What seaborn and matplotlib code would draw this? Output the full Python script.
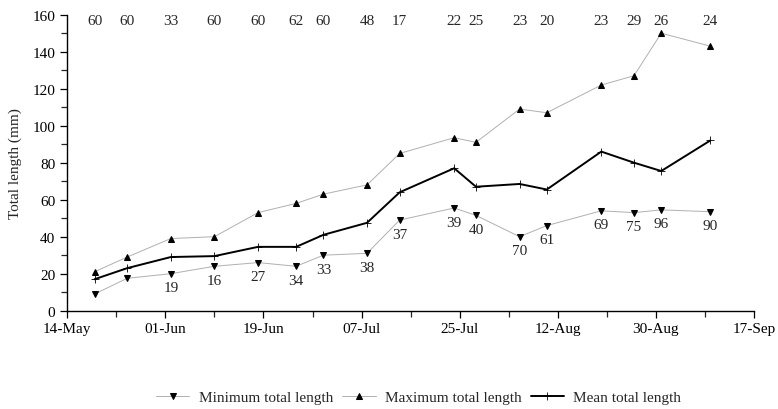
import matplotlib
matplotlib.use("Agg")
import matplotlib.pyplot as plt
import matplotlib.dates as mdates
import seaborn as sns
import pandas as pd
import numpy as np

dates = ["2000-05-19", "2000-05-25", "2000-06-02", "2000-06-10", "2000-06-18",
         "2000-06-25", "2000-06-30", "2000-07-08", "2000-07-14", "2000-07-24",
         "2000-07-28", "2000-08-05", "2000-08-10", "2000-08-20", "2000-08-26",
         "2000-08-31", "2000-09-09"]
min_len = [9, 17.5, 20, 24, 26, 24, 30, 31, 49, 55.5, 51.5, 40, 46, 54, 53, 54.5, 53.5]
max_len = [21, 29, 39, 40, 53, 58, 63, 68, 85, 93.5, 91, 109, 107, 122, 127, 150, 143]
mean_len = [17, 23, 29, 29.5, 34.5, 34.5, 41, 47.5, 64, 77, 67, 68.5, 65.5, 86, 80, 75.5, 92]
top_counts = [60, 60, 33, 60, 60, 62, 60, 48, 17, 22, 25, 23, 20, 23, 29, 26, 24]
bottom_labels = [None, None, 19, 16, 27, 34, 33, 38, 37, 39, 40, 70, 61, 69, 75, 96, 90]
x_ticks = ["2000-05-14", "2000-06-01", "2000-06-19", "2000-07-07", "2000-07-25",
           "2000-08-12", "2000-08-30", "2000-09-17"]

df = pd.DataFrame({"date": pd.to_datetime(dates), "min": min_len,
                   "max": max_len, "mean": mean_len})

sns.set_style("ticks")
plt.rcParams["font.family"] = ["Liberation Serif", "DejaVu Serif"]
plt.rcParams["font.size"] = 11

fig = plt.figure(figsize=(7.78, 4.10), dpi=100)
ax = fig.add_axes([0.0865, 0.2398, 0.8825, 0.7219])

grey = "#b0b0b0"
sns.lineplot(data=df, x="date", y="min", ax=ax, color=grey, lw=0.7,
             marker="v", markersize=5, markerfacecolor="black",
             markeredgecolor="black", label="Minimum total length")
sns.lineplot(data=df, x="date", y="max", ax=ax, color=grey, lw=0.7,
             marker="^", markersize=5, markerfacecolor="black",
             markeredgecolor="black", label="Maximum total length")
sns.lineplot(data=df, x="date", y="mean", ax=ax, color="black", lw=1.4,
             marker="+", markersize=5.5, markeredgewidth=0.6,
             markeredgecolor="black", label="Mean total length")

for d, c in zip(df["date"], top_counts):
    ax.text(d, 157.0, str(c), ha="center", va="center", fontsize=11)
for d, v, b in zip(df["date"], min_len, bottom_labels):
    if b is not None:
        ax.annotate(str(b), (d, v), xytext=(0, -14), textcoords="offset pixels",
                    ha="center", va="center", fontsize=11)

xt = pd.to_datetime(x_ticks)
ax.set_xlim(xt[0], xt[-1])
ax.set_xticks(xt)
ax.xaxis.set_major_formatter(mdates.DateFormatter("%d-%b"))
minor = pd.date_range(xt[0], xt[-1], freq="9D")
ax.set_xticks(minor, minor=True)
ax.set_ylim(0, 160)
ax.set_yticks(np.arange(0, 161, 20))
ax.set_yticks(np.arange(0, 161, 10), minor=True)
ax.tick_params(axis="both", which="major", length=5, width=0.9, labelsize=11, colors="black")
ax.tick_params(axis="both", which="minor", length=4, width=0.9)
ax.set_xlabel("")
ax.set_ylabel("Total length (mm)", fontsize=11)
ax.yaxis.set_label_coords(-0.066, 0.5)
for s in ["top", "right"]:
    ax.spines[s].set_visible(False)
for s in ["left", "bottom"]:
    ax.spines[s].set_linewidth(1.0)
    ax.spines[s].set_color("black")

ax.legend(loc="center", bbox_to_anchor=(0.538, 0.029), bbox_transform=fig.transFigure,
          ncol=3, frameon=False, fontsize=11, handlelength=2.2,
          columnspacing=0.6, handletextpad=0.6)

fig.savefig("out.png", dpi=100)
